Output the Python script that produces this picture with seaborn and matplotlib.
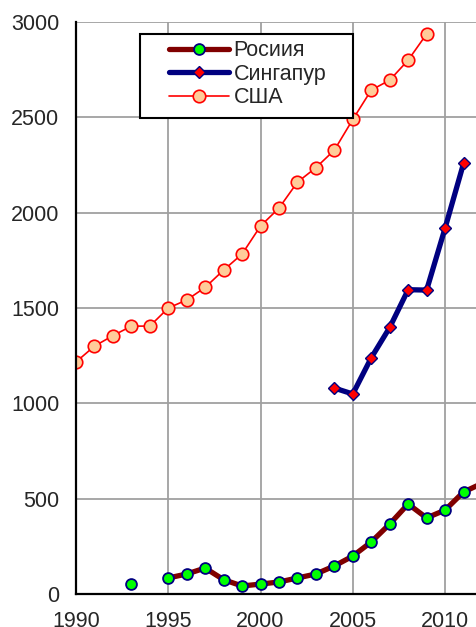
import numpy as np
import pandas as pd
import matplotlib.pyplot as plt
from matplotlib.lines import Line2D
from matplotlib.patches import Rectangle
import seaborn as sns

years = list(range(1990, 2013))

russia = [np.nan, np.nan, np.nan, 52, np.nan, 84, 105, 136, 75, 42, 52, 63, 84, 105,
          147, 199, 273, 367, 472, 399, 440, 535, 580]
singapore = [np.nan] * 14 + [1080, 1049, 1239, 1398, 1596, 1594, 1919, 2258, np.nan]
usa = [1217, 1300, 1355, 1405, 1405, 1500, 1542, 1608, 1699, 1783, 1930, 2024, 2160,
       2236, 2328, 2489, 2643, 2695, 2800, 2937, np.nan, np.nan, np.nan]

labels = ["Росиия", "Сингапур", "США"]


def to_long(name, values):
    df = pd.DataFrame({"year": years, "value": values})
    # break the line wherever a value is missing
    df["seg"] = df["value"].isna().cumsum()
    df["country"] = name
    return df.dropna()


sns.set_style("white")
plt.rcParams["font.family"] = ["Liberation Sans", "DejaVu Sans"]

styles = {
    "Росиия": dict(color="#800000", lw=3.8, marker="o", ms=7.8,
                   mfc="#00ff00", mec="#000080", mew=1.3),
    "Сингапур": dict(color="#000080", lw=3.8, marker="D", ms=6.5,
                     mfc="#ff0000", mec="#000080", mew=1.0),
    "США": dict(color="#ff0000", lw=1.2, marker="o", ms=9,
                mfc="#ffcc99", mec="#ff0000", mew=1.2),
}

fig = plt.figure(figsize=(4.77, 6.27), dpi=100)
ax = fig.add_axes([76 / 477, 33 / 627, 1 - 76 / 477, 572 / 627])

for name, vals in zip(labels, [russia, singapore, usa]):
    df = to_long(name, vals)
    st = styles[name]
    sns.lineplot(data=df, x="year", y="value", units="seg", estimator=None, ax=ax,
                 color=st["color"], linewidth=st["lw"], marker=st["marker"],
                 markersize=st["ms"], markerfacecolor=st["mfc"],
                 markeredgecolor=st["mec"], markeredgewidth=st["mew"],
                 legend=False, clip_on=True)

ax.set_xlim(1990, 2011.73)
ax.set_ylim(0, 3000)
ax.set_xticks([1990, 1995, 2000, 2005, 2010])
ax.set_yticks(range(0, 3001, 500))
ax.set_xlabel("")
ax.set_ylabel("")
ax.grid(True, color="#a0a0a0", lw=1.3)
ax.set_axisbelow(True)
for s in ["top", "right"]:
    ax.spines[s].set_visible(False)
for s in ["left", "bottom"]:
    ax.spines[s].set_color("black")
    ax.spines[s].set_linewidth(1.6)
ax.tick_params(axis="both", direction="out", length=5, width=1.3, color="black",
               labelsize=15.5)
ax.tick_params(axis="y", pad=7)
ax.tick_params(axis="x", pad=7)

# legend box drawn separately, it is wider than the entries
ax.add_patch(Rectangle((0.1596, 0.8322), 0.5312, 0.1468, transform=ax.transAxes,
                       facecolor="white", edgecolor="black", lw=1.5, zorder=5,
                       clip_on=False))
handles = [Line2D([], [], color=styles[n]["color"], lw=styles[n]["lw"],
                  marker=styles[n]["marker"], ms=styles[n]["ms"],
                  mfc=styles[n]["mfc"], mec=styles[n]["mec"], mew=styles[n]["mew"])
           for n in labels]
leg = ax.legend(handles, labels, loc="upper left", bbox_to_anchor=(0.232, 0.968),
                borderaxespad=0, fontsize=15.5, handlelength=2.8, handletextpad=0.2,
                labelspacing=0.12, frameon=False, borderpad=0)
leg.set_zorder(6)

fig.savefig("out.png", dpi=100)
